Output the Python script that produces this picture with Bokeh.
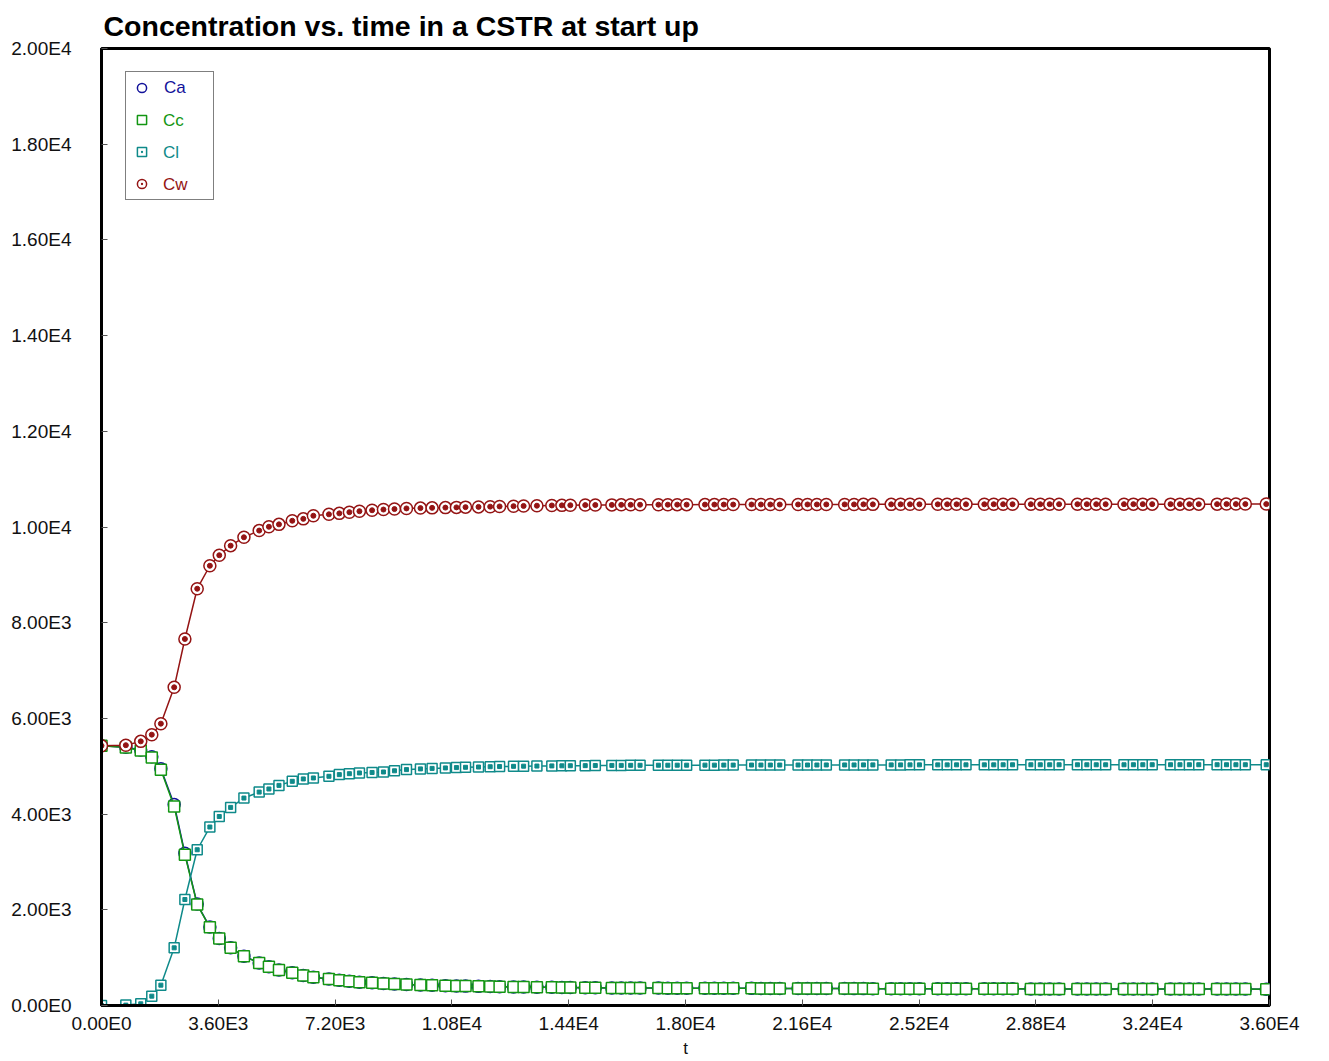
from bokeh.plotting import figure
from bokeh.models import Range1d, FixedTicker, Legend, LegendItem, ColumnDataSource
from bokeh.embed import file_html
from bokeh.resources import INLINE

# ---------------- data ----------------
t = [0, 750, 1210, 1550, 1830, 2240, 2570, 2950, 3340, 3630, 3980, 4390, 4860, 5160,
     5470, 5880, 6220, 6530, 7010, 7330, 7640, 7950, 8340, 8690, 9030, 9400, 9830,
     10190, 10600, 10940, 11220, 11620, 11980, 12270, 12700, 13010, 13420, 13880,
     14190, 14450, 14910, 15220,
     15730, 16020, 16310, 16600, 17165, 17455, 17745, 18035, 18600, 18890, 19180, 19470,
     20035, 20325, 20615, 20905, 21470, 21760, 22050, 22340, 22905, 23195, 23485, 23775,
     24340, 24630, 24920, 25210, 25775, 26065, 26355, 26645, 27210, 27500, 27790, 28080,
     28645, 28935, 29225, 29515, 30080, 30370, 30660, 30950, 31515, 31805, 32095, 32385,
     32950, 33240, 33530, 33820, 34385, 34675, 34965, 35255, 35900]

Ca = [5430, 5395, 5340, 5200, 4950, 4200, 3180, 2120, 1640, 1400, 1205, 1030, 890, 810,
      740, 685, 625, 590, 555, 530, 507, 487, 474, 460, 450, 440, 430, 422, 415, 410,
      405, 400, 396, 393, 389, 386, 383, 380, 378, 376, 373, 371,
      368, 367, 366, 365, 364, 363, 362, 362, 361, 360, 359, 359, 358, 357, 357, 356,
      356, 355, 355, 354, 354, 353, 353, 352, 352, 351, 351, 350, 350, 350, 349, 349,
      349, 348, 348, 348, 347, 347, 347, 346, 346, 346, 346, 345, 345, 345, 345, 344,
      344, 344, 344, 344, 343, 343, 343, 343, 342]

Cc = [5430, 5390, 5330, 5185, 4925, 4160, 3150, 2110, 1635, 1400, 1205, 1030, 890, 810,
      740, 685, 625, 590, 555, 530, 507, 487, 474, 460, 450, 440, 430, 422, 415, 410,
      405, 400, 396, 393, 389, 386, 383, 380, 378, 376, 373, 371,
      368, 367, 366, 365, 364, 363, 362, 362, 361, 360, 359, 359, 358, 357, 357, 356,
      356, 355, 355, 354, 354, 353, 353, 352, 352, 351, 351, 350, 350, 350, 349, 349,
      349, 348, 348, 348, 347, 347, 347, 346, 346, 346, 346, 345, 345, 345, 345, 344,
      344, 344, 344, 344, 343, 343, 343, 343, 342]

Cl = [0, 8, 35, 195, 425, 1205, 2215, 3255, 3730, 3950, 4140, 4335, 4460, 4525, 4600,
      4685, 4735, 4755, 4790, 4825, 4845, 4860, 4870, 4880, 4905, 4930, 4945, 4955,
      4965, 4972, 4978, 4984, 4990, 4994, 4998, 5001, 5004, 5007, 5009, 5011, 5013, 5015,
      5017, 5018, 5019, 5020, 5021, 5021, 5022, 5022, 5023, 5023, 5024, 5024,
      5025, 5025, 5025, 5025, 5026, 5026, 5026, 5027, 5027, 5027, 5028, 5028,
      5028, 5028, 5029, 5029, 5029, 5029, 5030, 5030, 5030, 5030, 5031, 5031,
      5031, 5031, 5031, 5031, 5031, 5031, 5031, 5031, 5031, 5032, 5032, 5032,
      5032, 5032, 5032, 5032, 5032, 5032, 5032, 5032, 5032]

Cw = [5430, 5440, 5520, 5660, 5890, 6650, 7660, 8710, 9190, 9410, 9610, 9785, 9925,
      10005, 10055, 10130, 10170, 10235, 10265, 10285, 10310, 10330, 10350, 10365,
      10375, 10388, 10395, 10400, 10405, 10410, 10415, 10420, 10425, 10430, 10435,
      10440, 10445, 10450, 10452, 10455, 10458, 10460,
      10462, 10463, 10464, 10465, 10466, 10466, 10467, 10467, 10468, 10468, 10469, 10469,
      10470, 10470, 10470, 10470, 10471, 10471, 10471, 10472, 10472, 10472, 10473, 10473,
      10473, 10474, 10474, 10474, 10474, 10475, 10475, 10475, 10475, 10476, 10476, 10476,
      10476, 10476, 10477, 10477, 10477, 10477, 10477, 10477, 10477, 10478, 10478, 10478,
      10478, 10478, 10478, 10478, 10478, 10479, 10479, 10479, 10479]

series_names = ["Ca", "Cc", "Cl", "Cw"]

x_ticks = [0, 3600, 7200, 10800, 14400, 18000, 21600, 25200, 28800, 32400, 36000]
x_tick_labels = ["0.00E0", "3.60E3", "7.20E3", "1.08E4", "1.44E4", "1.80E4",
                 "2.16E4", "2.52E4", "2.88E4", "3.24E4", "3.60E4"]
y_ticks = [0, 2000, 4000, 6000, 8000, 10000, 12000, 14000, 16000, 18000, 20000]
y_tick_labels = ["0.00E0", "2.00E3", "4.00E3", "6.00E3", "8.00E3", "1.00E4",
                 "1.20E4", "1.40E4", "1.60E4", "1.80E4", "2.00E4"]

title_text = "Concentration vs. time in a CSTR at start up"
x_label = "t"

# ---------------- styles ----------------
FONT = "Liberation Sans"
colors = {"Ca": "#12129a", "Cc": "#139613", "Cl": "#0f8a8a", "Cw": "#941414"}
markers = {"Ca": "circle", "Cc": "square", "Cl": "square_dot", "Cw": "circle_dot"}
sizes = {"Ca": 12, "Cc": 11, "Cl": 10, "Cw": 12}
dot_markers = {"Cl": ("square", 4), "Cw": ("circle", 5)}

src = ColumnDataSource(dict(t=t, Ca=Ca, Cc=Cc, Cl=Cl, Cw=Cw))

p = figure(width=1321, height=1060, output_backend="svg", toolbar_location=None,
           x_range=Range1d(0, 36000), y_range=Range1d(0, 20000),
           min_border_left=101, min_border_right=52, min_border_top=48,
           min_border_bottom=54, title=title_text)

p.title.text_font = FONT
p.title.text_font_size = "28.5px"
p.title.text_font_style = "bold"
p.title.text_color = "black"
p.title.align = "left"
p.title.offset = 2
p.title.standoff = 14

p.xgrid.visible = False
p.ygrid.visible = False
p.outline_line_color = "black"
p.outline_line_width = 3
p.outline_line_alpha = 1.0
p.background_fill_color = "white"
p.border_fill_color = "white"

for ax in (p.xaxis[0], p.yaxis[0]):
    ax.axis_line_color = "black"
    ax.axis_line_width = 3
    ax.major_tick_in = 6
    ax.major_tick_out = 0
    ax.major_tick_line_color = "#555555"
    ax.major_tick_line_width = 1
    ax.minor_tick_line_color = None
    ax.major_label_text_font = FONT
    ax.major_label_text_font_size = "19px"
    ax.major_label_text_color = "#111111"

p.xaxis.ticker = FixedTicker(ticks=x_ticks)
p.xaxis.major_label_overrides = {v: s for v, s in zip(x_ticks, x_tick_labels)}
p.yaxis.ticker = FixedTicker(ticks=y_ticks)
p.yaxis.major_label_overrides = {v: s for v, s in zip(y_ticks, y_tick_labels)}
p.xaxis.major_label_standoff = 7
p.yaxis.major_label_standoff = 30
p.xaxis.axis_label = x_label
p.xaxis.axis_label_text_font = FONT
p.xaxis.axis_label_text_font_size = "17px"
p.xaxis.axis_label_text_font_style = "normal"
p.xaxis.axis_label_text_color = "#111111"
p.xaxis.axis_label_standoff = 2

scatter_r = {}
for name in series_names:
    c = colors[name]
    p.line("t", name, source=src, line_color=c, line_width=1.5)
    scatter_r[name] = p.scatter("t", name, source=src, marker=markers[name],
                                size=sizes[name], line_color=c, line_width=1.5,
                                fill_color="white")
    if name in dot_markers:
        mk, sz = dot_markers[name]
        p.scatter("t", name, source=src, marker=mk, size=sz, line_color=c,
                  line_width=1, fill_color=c)

# invisible renderer used for text-only legend overlays
dummy = p.scatter(x=[], y=[], marker="circle", size=1, line_alpha=0, fill_alpha=0)

LEG = dict(location=(24, 805), margin=0, padding=4, spacing=9,
           glyph_width=23, glyph_height=23, label_standoff=11,
           label_width=45, label_height=22,
           label_text_font=FONT, label_text_font_size="17px")

# base legend: border + glyphs, first label coloured
base_items = []
for i, name in enumerate(series_names):
    base_items.append(LegendItem(label=name if i == 0 else " ",
                                 renderers=[scatter_r[name]]))
base = Legend(items=base_items, border_line_color="black", border_line_width=1.5,
              background_fill_color="white", background_fill_alpha=1.0,
              label_text_color=colors[series_names[0]], **LEG)
p.add_layout(base)

# overlays for coloured labels of the remaining entries
for j, name in enumerate(series_names):
    if j == 0:
        continue
    items = [LegendItem(label=(n if k == j else " "), renderers=[dummy])
             for k, n in enumerate(series_names)]
    ov = Legend(items=items, border_line_alpha=0, background_fill_alpha=0,
                label_text_color=colors[name], **LEG)
    p.add_layout(ov)

open("out.html", "w").write(file_html(p, INLINE))
